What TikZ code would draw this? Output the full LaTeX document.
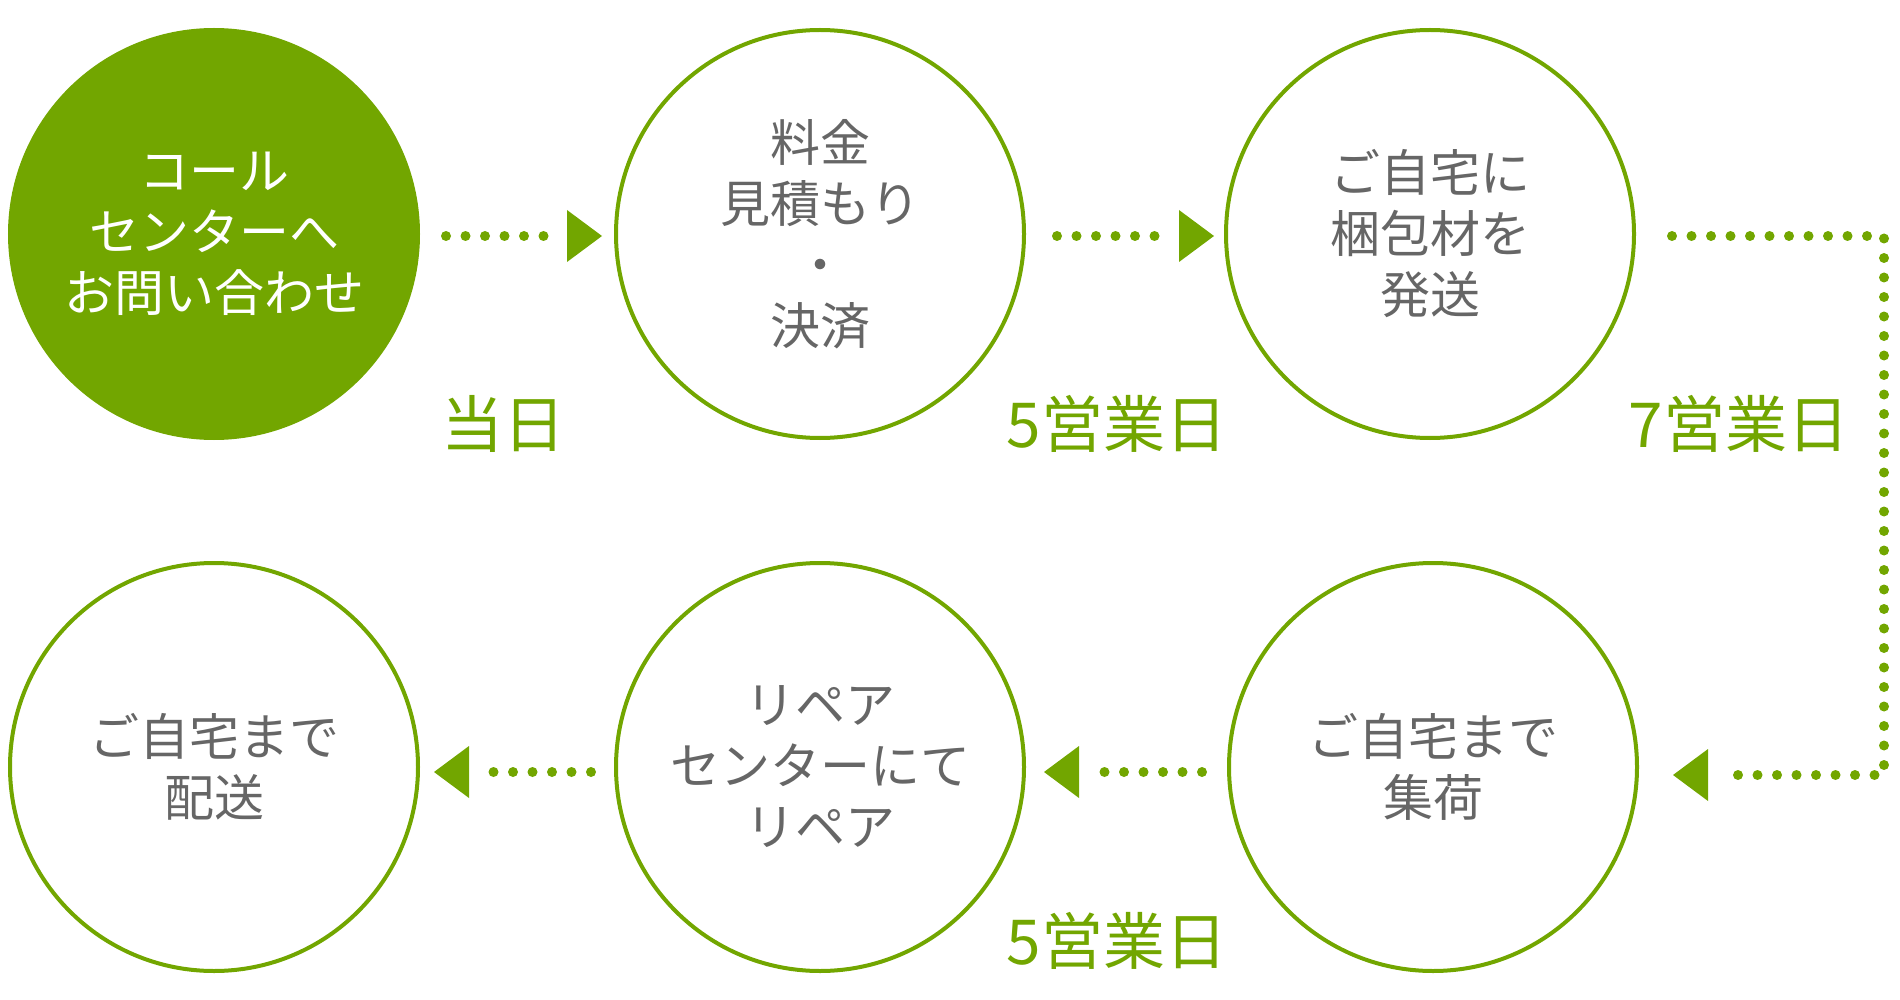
\documentclass[tikz,border=0pt]{standalone}
\usepackage{fontspec}
\setmainfont{Noto Sans CJK JP}
\definecolor{leaf}{HTML}{72A600}
\definecolor{ink}{HTML}{666666}
\tikzset{
  stepcircle/.style={circle, draw=leaf, line width=4pt, minimum size=408pt, inner sep=0pt,
    align=center, text=ink, font=\fontsize{50}{61}\selectfont},
  dotline/.style={leaf, line width=10pt, line cap=round, dash pattern=on 0pt off 19.5pt},
  tip/.style={fill=leaf, draw=none},
  daylabel/.style={text=leaf, font=\fontsize{62}{62}\selectfont, inner sep=0pt}
}
\begin{document}
\begin{tikzpicture}[x=1pt,y=-1pt]
\useasboundingbox (0,0) rectangle (1900,1000);

% top row
\node[stepcircle, fill=leaf, text=white] (call) at (214,234) {コール\\センターへ\\お問い合わせ};
\node[stepcircle] (quote) at (820,234) {料金\\見積もり\\・\\決済};
\node[stepcircle] (ship) at (1430,234) {ご自宅に\\梱包材を\\発送};

% bottom row
\node[stepcircle] (pickup) at (1433,767) {ご自宅まで\\集荷};
\node[stepcircle] (repair) at (820,767) {リペア\\センターにて\\リペア};
\node[stepcircle] (deliver) at (214,767) {ご自宅まで\\配送};

% connectors
\coordinate (a1s) at (446,236); \coordinate (a1e) at (548,236);
\draw[dotline] (a1s) -- (a1e);
\fill[tip] (602,236) -- (567,210) -- (567,262) -- cycle;

\coordinate (a2s) at (1057,236); \coordinate (a2e) at (1159,236);
\draw[dotline] (a2s) -- (a2e);
\fill[tip] (1214,236) -- (1179,210) -- (1179,262) -- cycle;

\coordinate (a3s) at (1672,236); \coordinate (a3c1) at (1884,236);
\coordinate (a3c2) at (1884,775); \coordinate (a3e) at (1725,775);
\draw[dotline] (a3s) -- (a3c1) -- (a3c2) -- (a3e);
\fill[tip] (1673,775) -- (1708,749) -- (1708,801) -- cycle;

\coordinate (a4s) at (1202,772); \coordinate (a4e) at (1099,772);
\draw[dotline] (a4s) -- (a4e);
\fill[tip] (1044,772) -- (1079,746) -- (1079,798) -- cycle;

\coordinate (a5s) at (591,772); \coordinate (a5e) at (488,772);
\draw[dotline] (a5s) -- (a5e);
\fill[tip] (434,772) -- (469,746) -- (469,798) -- cycle;

% day labels
\node[daylabel] (d1) at (503,424) {当日};
\node[daylabel] (d2) at (1117,424) {5営業日};
\node[daylabel] (d3) at (1739,424) {7営業日};
\node[daylabel] (d4) at (1117,941) {5営業日};
\end{tikzpicture}
\end{document}
